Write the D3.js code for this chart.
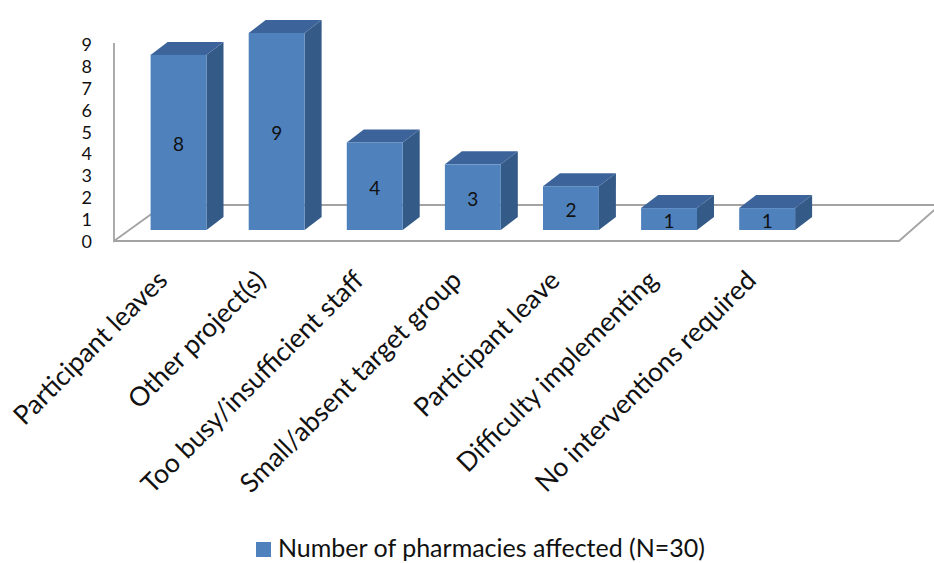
<!DOCTYPE html>
<html>
<head>
<meta charset="utf-8">
<script src="https://cdn.jsdelivr.net/npm/d3@7"></script>
<style>
  html, body { margin: 0; padding: 0; background: #fff; }
  svg { display: block; }
  text { font-family: Lato, "Open Sans", "Liberation Sans", sans-serif; fill: #111; }
</style>
</head>
<body>
<svg id="chart" width="934" height="563"></svg>
<script>
// Reasons pharmacies gave, and how many pharmacies reported each
const categories = [
  "Participant leaves",
  "Other project(s)",
  "Too busy/insufficient staff",
  "Small/absent target group",
  "Participant leave",
  "Difficulty implementing",
  "No interventions required"
];
const pharmacies = [8, 9, 4, 3, 2, 1, 1];
const yTicks = [0, 1, 2, 3, 4, 5, 6, 7, 8, 9];
const seriesName = "Number of pharmacies affected (N=30)";

const svg = d3.select("#chart");

// Colours of the three visible faces of each column
const frontFill = "#4F81BD";
const topFill = "#3C649A";
const sideFill = "#345A88";
const wallStroke = "#A3A3A3";

// Scales
const x = d3.scaleBand()
  .domain(categories)
  .range([129.5, 816.2])
  .paddingInner(0.43)
  .paddingOuter(0.215);

const y = d3.scaleLinear().domain([0, 9]).range([241, 44]);

// Columns stand halfway into the floor's depth
const barLift = 11;
const base = y(0) - barLift;
const depthX = 17, depthY = -13;

// Floor outline and vertical axis line
const floor = svg.append("g")
  .attr("fill", "none")
  .attr("stroke", wallStroke)
  .attr("stroke-width", 1.8);

floor.append("path")
  .attr("d", d3.line()([[114, y(9) - 1], [114, y(0)], [164, 205], [940, 205]]));
floor.append("path")
  .attr("d", d3.line()([[114, y(0)], [899, y(0)], [940, 205]]));

// Y tick labels
svg.append("g")
  .selectAll("text")
  .data(yTicks)
  .join("text")
  .attr("x", 92)
  .attr("y", d => y(d))
  .attr("text-anchor", "end")
  .attr("dominant-baseline", "central")
  .attr("font-size", 18)
  .text(d => d);

// 3D columns
const bars = svg.append("g")
  .selectAll("g")
  .data(categories.map((c, i) => ({ c, v: pharmacies[i] })))
  .join("g");

bars.each(function (d) {
  const g = d3.select(this);
  const x0 = x(d.c);
  const w = x.bandwidth();
  const top = y(d.v) - barLift;

  // side face
  g.append("path")
    .attr("fill", sideFill)
    .attr("d", d3.line()([
      [x0 + w, top], [x0 + w + depthX, top + depthY],
      [x0 + w + depthX, base + depthY], [x0 + w, base]
    ]) + "Z");
  // top face
  g.append("path")
    .attr("fill", topFill)
    .attr("d", d3.line()([
      [x0, top], [x0 + depthX, top + depthY],
      [x0 + w + depthX, top + depthY], [x0 + w, top]
    ]) + "Z");
  // front face
  g.append("rect")
    .attr("x", x0)
    .attr("y", top)
    .attr("width", w)
    .attr("height", base - top)
    .attr("fill", frontFill);
  // value label
  g.append("text")
    .attr("x", x0 + w / 2)
    .attr("y", (top + base) / 2 + 1)
    .attr("text-anchor", "middle")
    .attr("dominant-baseline", "central")
    .attr("font-size", 19)
    .attr("fill", "#0b1426")
    .text(d.v);
});

// Rotated category labels
svg.append("g")
  .selectAll("text")
  .data(categories)
  .join("text")
  .attr("transform", d => `translate(${x(d) + x.bandwidth() / 2 - 9.5},282) rotate(-45)`)
  .attr("text-anchor", "end")
  .attr("font-size", 26.5)
  .text(d => d);

// Legend
const legend = svg.append("g");
legend.append("rect")
  .attr("x", 256)
  .attr("y", 542)
  .attr("width", 15)
  .attr("height", 15)
  .attr("fill", frontFill);
legend.append("text")
  .attr("x", 278)
  .attr("y", 557)
  .attr("font-size", 25)
  .text(seriesName);
</script>
</body>
</html>
